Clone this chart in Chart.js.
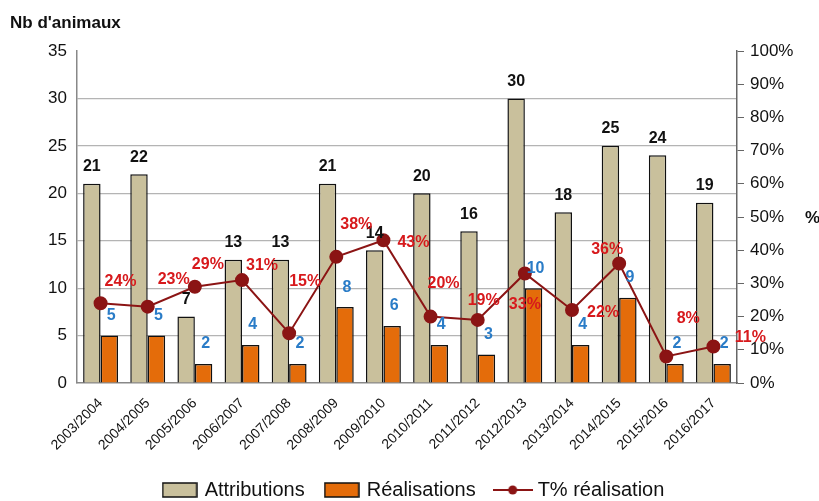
<!DOCTYPE html>
<html>
<head>
<meta charset="utf-8">
<script src="https://cdn.jsdelivr.net/npm/chart.js@4"></script>
<style>
  html, body { margin: 0; padding: 0; background: #fff; }
  #wrap { width: 819px; height: 501px; }
</style>
</head>
<body>
<div id="wrap"><canvas id="chart"></canvas></div>
<script>
const saisons = ['2003/2004', '2004/2005', '2005/2006', '2006/2007', '2007/2008', '2008/2009', '2009/2010',
                 '2010/2011', '2011/2012', '2012/2013', '2013/2014', '2014/2015', '2015/2016', '2016/2017'];
const attributions = [21, 22, 7, 13, 13, 21, 14, 20, 16, 30, 18, 25, 24, 19];
const realisations = [5, 5, 2, 4, 2, 8, 6, 4, 3, 10, 4, 9, 2, 2];
const tauxRealisation = [24, 23, 29, 31, 15, 38, 43, 20, 19, 33, 22, 36, 8, 11];

// décalage des étiquettes % par rapport au point (px)
const tauxDx = [20, 26, 13, 20, 16, 20, 30, 13, 6, 0, 31, -12, 22, 37];
const tauxDy = [-22, -27, -22, -14, -52, -32, 2, -33, -19, 31, 3, -14, -38, -9];

const beige = '#c9c09c';
const orange = '#e46c0a';
const rougeFonce = '#8b1414';
const FONT = "'Liberation Sans', Arial, sans-serif";

function legendBox(fill) {
    const c = document.createElement('canvas');
    c.width = 36; c.height = 16;
    const g = c.getContext('2d');
    g.fillStyle = fill;
    g.fillRect(1, 1, 34, 14);
    g.strokeStyle = '#111';
    g.lineWidth = 1.5;
    g.strokeRect(1, 1, 34, 14);
    return c;
}

function legendLine() {
    const c = document.createElement('canvas');
    c.width = 40; c.height = 12;
    const g = c.getContext('2d');
    g.strokeStyle = rougeFonce;
    g.lineWidth = 2;
    g.beginPath(); g.moveTo(0, 6); g.lineTo(40, 6); g.stroke();
    g.fillStyle = rougeFonce;
    g.beginPath(); g.arc(20, 6, 4.5, 0, Math.PI * 2); g.fill();
    return c;
}

const legendStyles = [legendBox(beige), legendBox(orange), legendLine()];

const etiquettes = {
    id: 'etiquettes',
    afterDatasetsDraw(chart) {
        const ctx = chart.ctx;
        ctx.save();
        ctx.textAlign = 'center';
        ctx.textBaseline = 'middle';

        ctx.font = 'bold 16px ' + FONT;
        ctx.fillStyle = '#111';
        chart.getDatasetMeta(0).data.forEach((bar, i) => {
            ctx.fillText(attributions[i], bar.x, bar.y - 17);
        });

        ctx.font = 'bold 16px ' + FONT;
        ctx.fillStyle = '#2a7cc7';
        chart.getDatasetMeta(1).data.forEach((bar, i) => {
            ctx.fillText(realisations[i], bar.x + 2, bar.y - 20);
        });

        ctx.font = 'bold 16px ' + FONT;
        ctx.fillStyle = '#d7191c';
        chart.getDatasetMeta(2).data.forEach((pt, i) => {
            ctx.fillText(tauxRealisation[i] + '%', pt.x + tauxDx[i], pt.y + tauxDy[i]);
        });

        // titres des axes
        ctx.fillStyle = '#111';
        ctx.font = 'bold 17px ' + FONT;
        ctx.textAlign = 'left';
        ctx.fillText("Nb d'animaux", 10, 23);
        ctx.fillText('%', 805, 218);
        ctx.restore();
    }
};

new Chart(document.getElementById('chart'), {
    data: {
        labels: saisons,
        datasets: [
            {
                type: 'bar',
                label: 'Attributions',
                data: attributions,
                backgroundColor: beige,
                borderColor: '#111',
                borderWidth: 1.5,
                yAxisID: 'y',
                order: 1
            },
            {
                type: 'bar',
                label: 'Réalisations',
                data: realisations,
                backgroundColor: orange,
                borderColor: '#111',
                borderWidth: 1.5,
                yAxisID: 'y',
                order: 1
            },
            {
                type: 'line',
                label: 'T% réalisation',
                data: tauxRealisation,
                borderColor: rougeFonce,
                backgroundColor: rougeFonce,
                borderWidth: 2,
                pointRadius: 6,
                pointBackgroundColor: rougeFonce,
                pointBorderColor: rougeFonce,
                tension: 0,
                yAxisID: 'y1',
                order: 0
            }
        ]
    },
    options: {
        responsive: true,
        maintainAspectRatio: false,
        animation: false,
        layout: { padding: { left: 10, right: 0, top: 51, bottom: -9 } },
        datasets: {
            bar: { categoryPercentage: 0.74, barPercentage: 1 }
        },
        plugins: {
            tooltip: { enabled: false },
            legend: {
                position: 'bottom',
                labels: {
                    usePointStyle: true,
                    pointStyleWidth: 30,
                    boxHeight: 16,
                    padding: 22,
                    color: '#111',
                    font: { family: FONT, size: 20 },
                    sort: (a, b) => a.datasetIndex - b.datasetIndex,
                    generateLabels(chart) {
                        const items = Chart.defaults.plugins.legend.labels.generateLabels(chart);
                        items.forEach(item => { item.pointStyle = legendStyles[item.datasetIndex]; });
                        return items;
                    }
                }
            }
        },
        scales: {
            x: {
                grid: { display: false, drawTicks: false },
                border: { color: '#888', width: 1.5 },
                ticks: {
                    minRotation: 45,
                    maxRotation: 45,
                    padding: 12,
                    color: '#111',
                    font: { family: FONT, size: 14 }
                },
                afterFit(scale) { scale.height = 75; }
            },
            y: {
                position: 'left',
                min: 0,
                max: 35,
                ticks: {
                    stepSize: 5,
                    padding: 10,
                    color: '#111',
                    font: { family: FONT, size: 17 }
                },
                grid: {
                    color: ctx => (ctx.tick && (ctx.tick.value === 0 || ctx.tick.value === 35)) ? 'rgba(0,0,0,0)' : '#b4b4b4',
                    lineWidth: 1.2,
                    drawTicks: false
                },
                border: { color: '#888', width: 1.5 },
                afterFit(scale) { scale.width = 67; }
            },
            y1: {
                position: 'right',
                min: 0,
                max: 100,
                ticks: {
                    stepSize: 10,
                    padding: 6,
                    color: '#111',
                    font: { family: FONT, size: 17 },
                    callback: v => v + '%'
                },
                grid: {
                    drawOnChartArea: false,
                    color: '#666',
                    tickLength: 7
                },
                border: { color: '#666', width: 1.5 },
                afterFit(scale) { scale.width = 82; }
            }
        }
    },
    plugins: [etiquettes]
});
</script>
</body>
</html>
